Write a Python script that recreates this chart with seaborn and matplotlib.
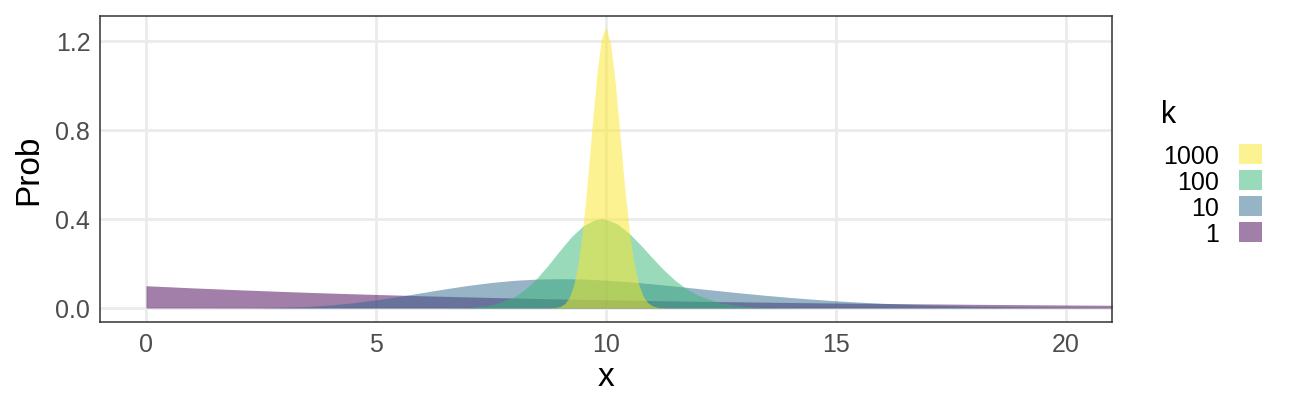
import matplotlib
matplotlib.use("Agg")
import matplotlib.pyplot as plt
from matplotlib.patches import Patch
import seaborn as sns
import pandas as pd

# --- values (density of each k) ---
x_k1 = [0, 1, 2, 3, 4, 5, 6, 7, 8, 9, 10, 11, 12, 13, 14, 15, 16, 17, 18, 19, 20, 21, 22]
prob_k1 = [0.100, 0.0905, 0.0819, 0.0741, 0.0670, 0.0607, 0.0549, 0.0497, 0.0449, 0.0407,
           0.0368, 0.0333, 0.0301, 0.0273, 0.0247, 0.0223, 0.0202, 0.0183, 0.0165, 0.0150,
           0.0135, 0.0122, 0.0111]

x_k10 = [0, 1, 2, 2.5, 3, 3.5, 4, 4.5, 5, 5.5, 6, 6.5, 7, 7.5, 8, 8.5, 9, 9.5, 10, 10.5,
         11, 11.5, 12, 12.5, 13, 13.5, 14, 14.5, 15, 15.5, 16, 16.5, 17, 17.5, 18, 18.5,
         19, 19.5, 20, 20.5, 21, 22]
prob_k10 = [0.0, 0.0, 0.0002, 0.0009, 0.0027, 0.0066, 0.0132, 0.0232, 0.0363, 0.0519,
            0.0688, 0.0858, 0.1014, 0.1144, 0.1241, 0.1299, 0.1318, 0.1300, 0.1251, 0.1177,
            0.1085, 0.0982, 0.0874, 0.0765, 0.0661, 0.0563, 0.0473, 0.0394, 0.0324, 0.0264,
            0.0213, 0.0171, 0.0135, 0.0107, 0.0083, 0.0065, 0.0050, 0.0038, 0.0029, 0.0022,
            0.0017, 0.0009]

x_k100 = [6.0, 6.5, 7.0, 7.5, 8.0, 8.25, 8.5, 8.75, 9.0, 9.25, 9.5, 9.75, 9.9, 10.0,
          10.25, 10.5, 10.75, 11.0, 11.25, 11.5, 11.75, 12.0, 12.5, 13.0, 13.5, 14.0, 14.5, 15.0]
prob_k100 = [0.0000, 0.0002, 0.0020, 0.0123, 0.0493, 0.0850, 0.1342, 0.1941, 0.2591,
             0.3205, 0.3687, 0.3960, 0.4006, 0.3986, 0.3771, 0.3363, 0.2837, 0.2268,
             0.1722, 0.1245, 0.0859, 0.0567, 0.0217, 0.0071, 0.0020, 0.0005, 0.0001, 0.0000]

x_k1000 = [8.7, 8.8, 8.9, 9.0, 9.1, 9.2, 9.3, 9.4, 9.5, 9.6, 9.7, 9.8, 9.9, 10.0, 10.1,
           10.2, 10.3, 10.4, 10.5, 10.6, 10.7, 10.8, 10.9, 11.0, 11.1, 11.2, 11.3]
prob_k1000 = [0.0000, 0.0005, 0.0020, 0.0065, 0.0186, 0.0467, 0.104, 0.206, 0.364, 0.578,
              0.821, 1.051, 1.212, 1.262, 1.188, 1.015, 0.787, 0.556, 0.358, 0.211,
              0.1136, 0.0561, 0.0254, 0.0105, 0.0040, 0.0014, 0.0003]

k_levels = ['1', '10', '100', '1000']
k_colors = ['#440154', '#31688E', '#35B779', '#FDE725']

df = pd.concat([
    pd.DataFrame({'x': x_k1, 'Prob': prob_k1, 'k': '1'}),
    pd.DataFrame({'x': x_k10, 'Prob': prob_k10, 'k': '10'}),
    pd.DataFrame({'x': x_k100, 'Prob': prob_k100, 'k': '100'}),
    pd.DataFrame({'x': x_k1000, 'Prob': prob_k1000, 'k': '1000'}),
])

sns.set_theme(style="whitegrid")
plt.rcParams['font.family'] = ['Liberation Sans', 'DejaVu Sans']
pal = dict(zip(k_levels, sns.color_palette(k_colors)))

fig = plt.figure(figsize=(12.96, 4.10), dpi=100)
ax = fig.add_axes([100 / 1296, 1 - 323 / 410, 1012 / 1296, 306 / 410])

for k in k_levels:
    sub = df[df['k'] == k]
    ax.fill_between(sub['x'], 0, sub['Prob'], color=pal[k], alpha=0.5, linewidth=0, zorder=2)

ax.set_xlim(-1, 21)
ax.set_ylim(-0.063, 1.312)
ax.set_xticks([0, 5, 10, 15, 20])
ax.set_yticks([0.0, 0.4, 0.8, 1.2])
ax.set_yticklabels(['0.0', '0.4', '0.8', '1.2'])
ax.tick_params(axis='both', length=0, labelsize=18, labelcolor='#4D4D4D', pad=7)
ax.grid(True, color='#EBEBEB', linewidth=2)
ax.set_axisbelow(True)
for s in ax.spines.values():
    s.set_color('#333333')
    s.set_linewidth(1.1)
ax.set_xlabel('x', fontsize=24, color='black', labelpad=4)
ax.set_ylabel('Prob', fontsize=24, color='black', labelpad=8)

# legend: title drawn as its own text, keys stacked 1000 -> 1
fig.text(1161 / 1296, 1 - 123 / 410, 'k', fontsize=22, color='black', va='baseline', ha='left')
handles = [Patch(facecolor=pal[k], alpha=0.5, edgecolor='none') for k in reversed(k_levels)]
leg = fig.legend(handles, list(reversed(k_levels)), loc='upper left',
                 bbox_to_anchor=(1151 / 1296, 1 - 132 / 410), frameon=False, borderpad=0,
                 markerfirst=False, fontsize=18, labelcolor='black',
                 handlelength=0.9, handleheight=0.9, handletextpad=0.8,
                 labelspacing=0.08)

fig.savefig('out.png', dpi=100)
